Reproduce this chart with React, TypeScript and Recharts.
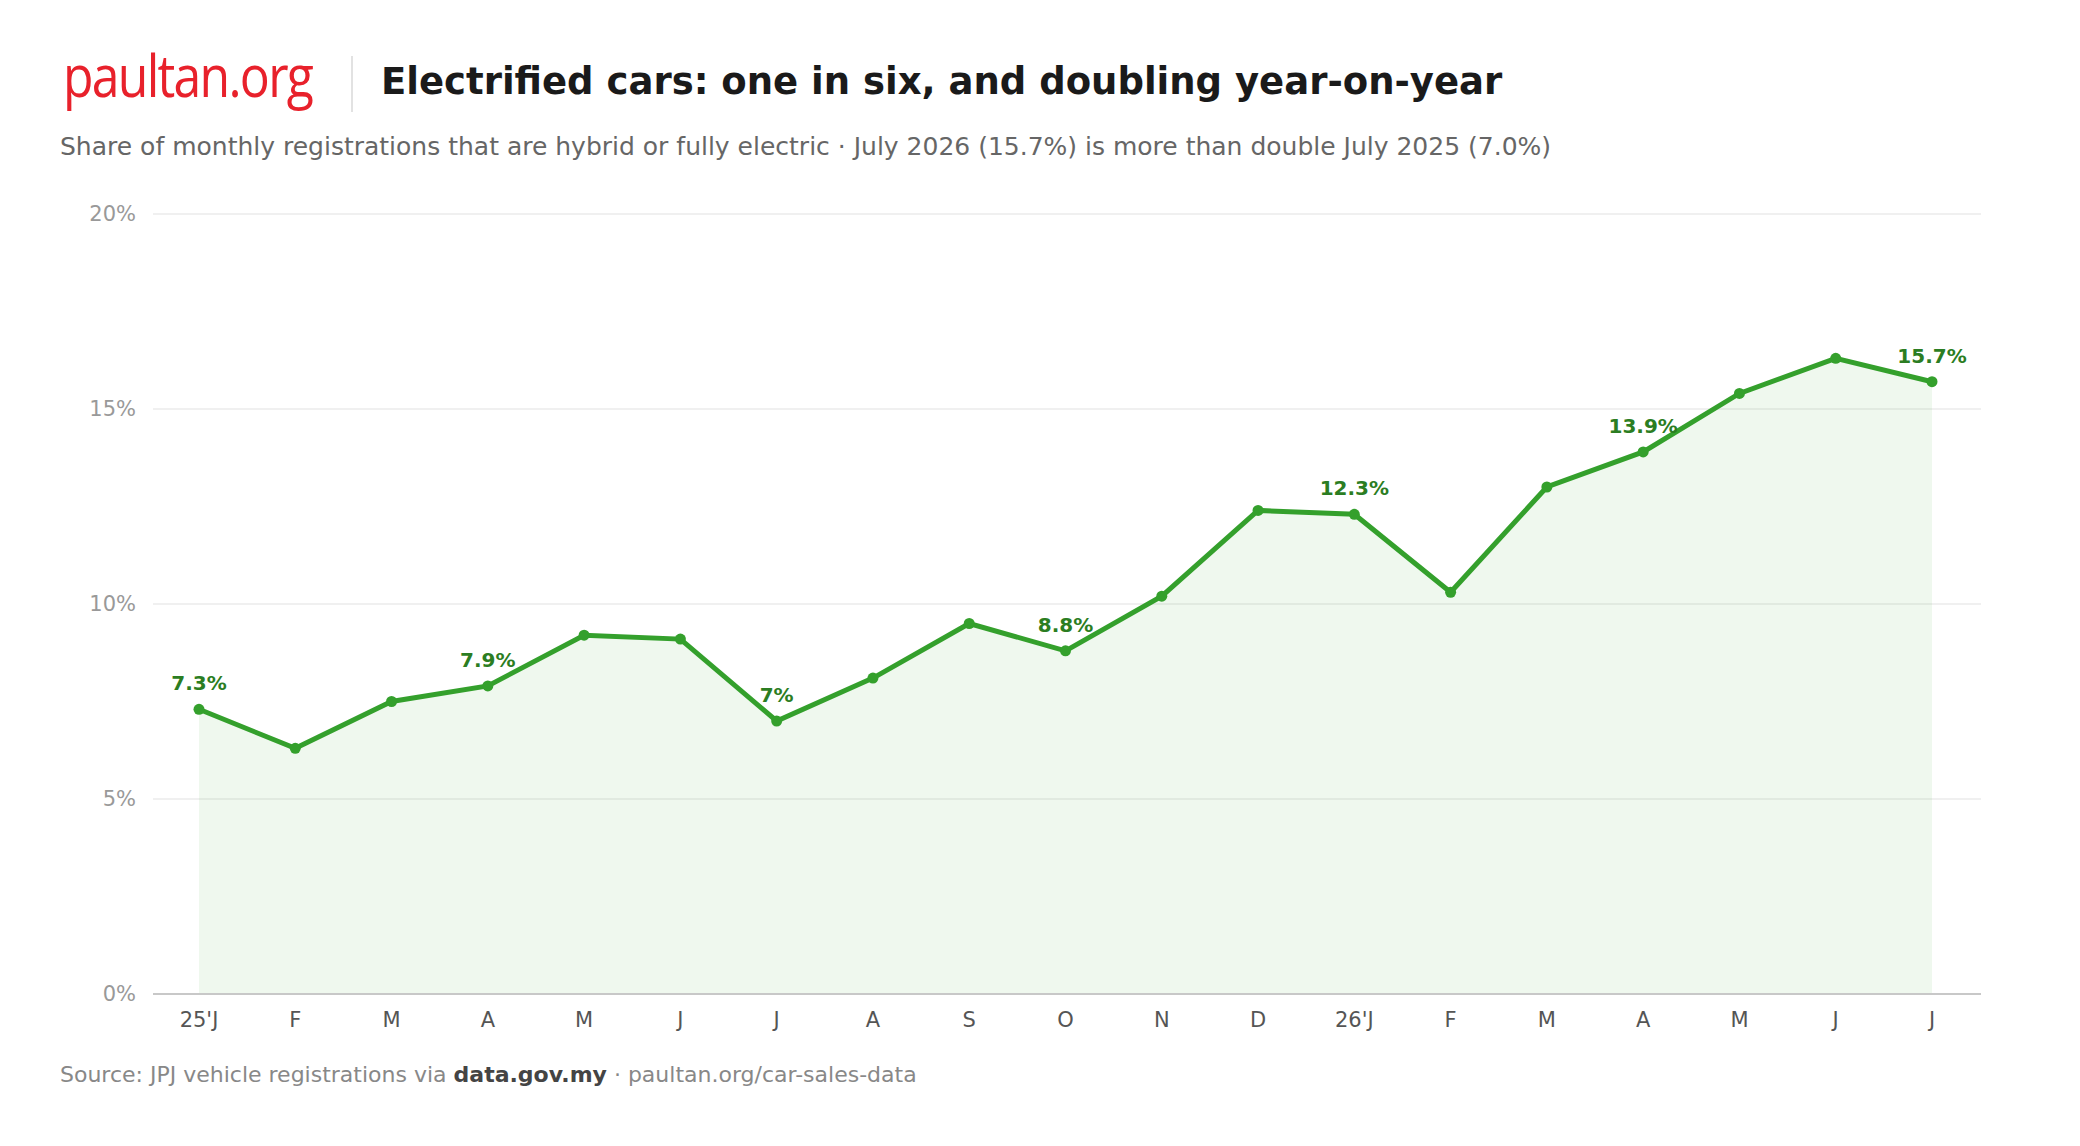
import { Area, CartesianGrid, ComposedChart, LabelList, Line, XAxis, YAxis } from "recharts";

const months = ["25'J", "F", "M", "A", "M", "J", "J", "A", "S", "O", "N", "D", "26'J", "F", "M", "A", "M", "J", "J"];
const sharePct = [7.3, 6.3, 7.5, 7.9, 9.2, 9.1, 7.0, 8.1, 9.5, 8.8, 10.2, 12.4, 12.3, 10.3, 13.0, 13.9, 15.4, 16.3, 15.7];
const labelledIdx = [0, 3, 6, 9, 12, 15, 18];
const yTicks = [0, 5, 10, 15, 20];

const data = months.map((m, i) => ({ key: `${i}`, month: m, share: sharePct[i] }));

const font = "'DejaVu Sans', sans-serif";
const green = "#34a02c";
const labelGreen = "#2b7d22";

function PointLabel(props: any) {
  const { x, y, index, value } = props;
  if (!labelledIdx.includes(index)) return null;
  return (
    <text x={x} y={y - 19} textAnchor="middle" fill={labelGreen} fontSize={20} fontWeight={700} fontFamily={font}>
      {`${value}%`}
    </text>
  );
}

function MonthTick(props: any) {
  const { x, y, payload } = props;
  return (
    <text x={x} y={y} dy="0.71em" textAnchor="middle" fill="#555" fontSize={21} fontFamily={font}>
      {months[payload.index]}
    </text>
  );
}

export default function App() {
  return (
    <div style={{ position: "relative", width: 2064, height: 1130, background: "#fff", fontFamily: font }}>
      <div
        style={{
          position: "absolute",
          left: 55,
          top: 32,
          fontFamily: "'Open Sans', sans-serif",
          fontSize: 58,
          letterSpacing: -2,
          color: "#e8212b",
          lineHeight: 1.2,
          transform: "scaleX(0.86)",
          transformOrigin: "left top",
          whiteSpace: "nowrap",
        }}
      >
        paultan.org
      </div>
      <div style={{ position: "absolute", left: 343, top: 48, width: 2, height: 56, background: "#e2e2e2" }} />
      <div
        style={{
          position: "absolute",
          left: 373,
          top: 55,
          fontSize: 37,
          fontWeight: 700,
          color: "#1a1a1a",
          lineHeight: 1,
          whiteSpace: "nowrap",
        }}
      >
        Electrified cars: one in six, and doubling year-on-year
      </div>
      <div style={{ position: "absolute", left: 52, top: 126, fontSize: 25, color: "#666", lineHeight: 1, whiteSpace: "nowrap" }}>
        Share of monthly registrations that are hybrid or fully electric · July 2026 (15.7%) is more than double July 2025 (7.0%)
      </div>
      <div style={{ position: "absolute", left: 0, top: 0 }}>
        <ComposedChart width={2064} height={1048} data={data} margin={{ top: 206, right: 91, left: 0, bottom: 0 }}>
          <CartesianGrid vertical={false} stroke="#ebebeb" strokeWidth={1.5} />
          <XAxis
            dataKey="key"
            interval={0}
            tick={<MonthTick />}
            tickLine={false}
            tickSize={0}
            tickMargin={18}
            axisLine={{ stroke: "#c8c8c8", strokeWidth: 2 }}
            padding={{ left: 46, right: 49 }}
            height={62}
          />
          <YAxis
            domain={[0, 20]}
            ticks={yTicks}
            tickFormatter={(v: number) => `${v}%`}
            tick={{ fill: "#999", fontSize: 21, fontFamily: font }}
            tickLine={false}
            axisLine={false}
            tickSize={0}
            tickMargin={17}
            width={145}
          />
          <Area
            type="linear"
            dataKey="share"
            stroke="none"
            fill={green}
            fillOpacity={0.08}
            isAnimationActive={false}
          />
          <Line
            type="linear"
            dataKey="share"
            stroke={green}
            strokeWidth={5}
            dot={{ r: 5.5, fill: green, stroke: "none" }}
            activeDot={false}
            isAnimationActive={false}
          >
            <LabelList dataKey="share" content={<PointLabel />} />
          </Line>
        </ComposedChart>
      </div>
      <div style={{ position: "absolute", left: 52, top: 1056, fontSize: 22, color: "#888", lineHeight: 1, whiteSpace: "nowrap" }}>
        Source: JPJ vehicle registrations via <b style={{ color: "#444" }}>data.gov.my</b> · paultan.org/car-sales-data
      </div>
    </div>
  );
}
